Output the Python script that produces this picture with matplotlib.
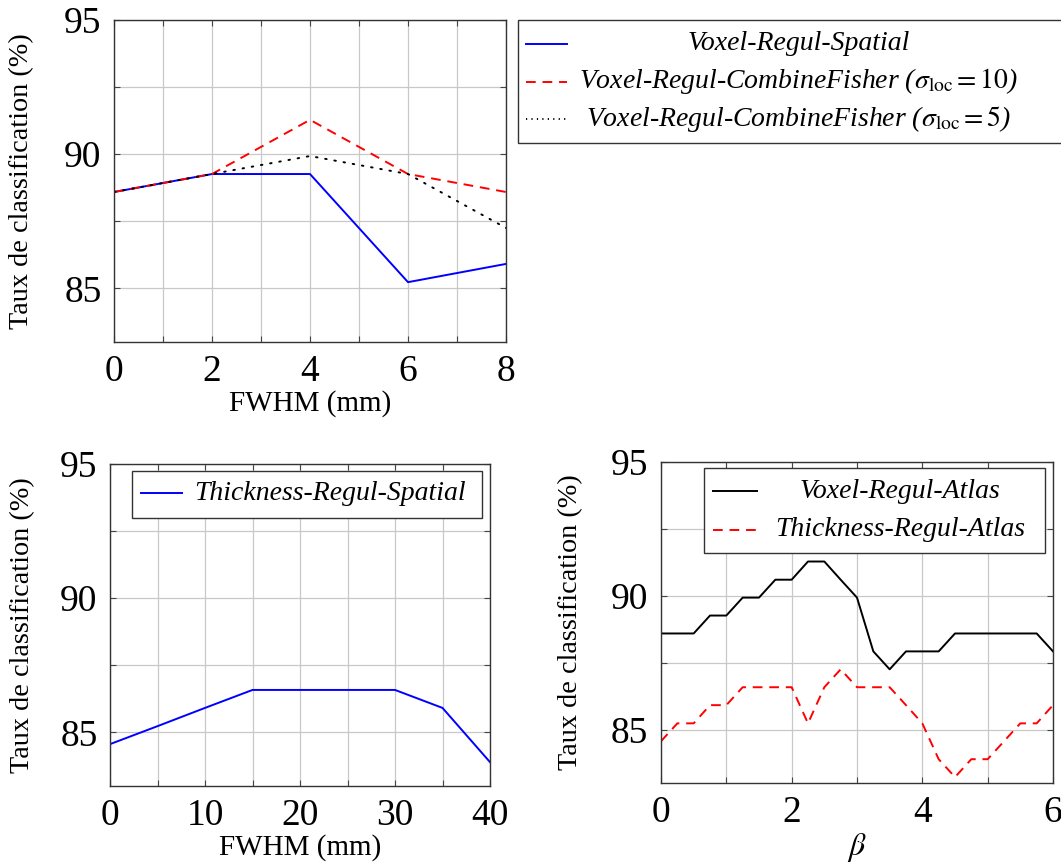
import matplotlib
matplotlib.use("Agg")
import matplotlib.pyplot as plt
from matplotlib.lines import Line2D
from matplotlib.patches import Rectangle
from matplotlib.ticker import MultipleLocator

# ---------------- data ----------------
fwhm_voxel = [0, 2, 4, 6, 8]
voxel_spatial = [88.59, 89.26, 89.26, 85.23, 85.91]
voxel_fisher10 = [88.59, 89.26, 91.28, 89.26, 88.59]
voxel_fisher5 = [88.59, 89.26, 89.93, 89.26, 87.25]

fwhm_thick = [0, 5, 10, 15, 20, 25, 30, 35, 40]
thick_spatial = [84.56, 85.23, 85.91, 86.58, 86.58, 86.58, 86.58, 85.91, 83.89]

beta = [0, 0.25, 0.5, 0.75, 1, 1.25, 1.5, 1.75, 2, 2.25, 2.5, 2.75, 3,
        3.25, 3.5, 3.75, 4, 4.25, 4.5, 4.75, 5, 5.25, 5.5, 5.75, 6]
voxel_atlas = [88.59, 88.59, 88.59, 89.26, 89.26, 89.93, 89.93, 90.60, 90.60,
               91.28, 91.28, 90.60, 89.93, 87.92, 87.25, 87.92, 87.92, 87.92,
               88.59, 88.59, 88.59, 88.59, 88.59, 88.59, 87.92]
thick_atlas = [84.56, 85.23, 85.23, 85.91, 85.91, 86.58, 86.58, 86.58, 86.58,
               85.23, 86.58, 87.25, 86.58, 86.58, 86.58, 85.91, 85.23, 83.89,
               83.22, 83.89, 83.89, 84.56, 85.23, 85.23, 85.91]

ylabel = "Taux de classification (%)"
yticks = [85, 90, 95]

# ---------------- style ----------------
plt.rcParams["font.family"] = ["Liberation Serif", "DejaVu Serif"]
plt.rcParams["mathtext.fontset"] = "stix"

W, H = 1061, 867
fig = plt.figure(figsize=(W / 100, H / 100), dpi=100)

BLUE = "#0000ff"
RED = "#ff0000"
LW = 1.4
DASH = (0, (5, 3.5))
DOT = (0, (0.8, 4.0))
TICK_FS = 27
XLABEL_FS = 21
YLABEL_FS = 20.3
LEG_FS = 20


def px_axes(l, t, r, b):
    return fig.add_axes([l / W, 1 - b / H, (r - l) / W, (b - t) / H])


def style(ax, xmaj, xmin, xlim):
    ax.set_xlim(*xlim)
    ax.set_ylim(83, 95)
    ax.xaxis.set_major_locator(MultipleLocator(xmaj))
    ax.xaxis.set_minor_locator(MultipleLocator(xmin))
    ax.set_yticks(yticks)
    ax.yaxis.set_minor_locator(MultipleLocator(2.5))
    ax.grid(True, which="both", color="#c8c8c8", lw=0.9)
    ax.set_axisbelow(True)
    ax.tick_params(which="both", direction="in", top=True, right=True,
                   length=4, width=0.8, color="#444444", labelsize=TICK_FS)
    ax.tick_params(axis="x", pad=9)
    ax.tick_params(axis="y", pad=9)
    for s in ax.spines.values():
        s.set_color("#333333")
        s.set_linewidth(1.0)
    ax.set_ylabel(ylabel, fontsize=YLABEL_FS)


def manual_legend(box, rows, text_cx):
    """box = (l, t, r, b) in pixels; rows = list of (y, x0, x1, kwargs, label)."""
    l, t, r, b = box
    fig.patches.append(Rectangle((l / W, 1 - b / H), (r - l) / W, (b - t) / H,
                                 transform=fig.transFigure, facecolor="white",
                                 edgecolor="#333333", lw=1.0, zorder=10))
    for (y, hx0, hx1, kw, label) in rows:
        fig.lines.append(Line2D([hx0 / W, hx1 / W], [1 - y / H, 1 - y / H],
                                transform=fig.transFigure, zorder=11, **kw))
        fig.text(text_cx / W, 1 - y / H, label, ha="center", va="center",
                 fontsize=LEG_FS, style="italic", zorder=12)


# ---------------- top ----------------
ax1 = px_axes(114, 20, 506, 342)
ax1.plot(fwhm_voxel, voxel_spatial, color=BLUE, lw=LW)
ax1.plot(fwhm_voxel, voxel_fisher10, color=RED, lw=LW, ls=DASH)
ax1.plot(fwhm_voxel, voxel_fisher5, color="black", lw=LW, ls=DOT,
         dash_capstyle="round")
style(ax1, 2, 1, (0, 8))
ax1.set_xlabel("FWHM (mm)", fontsize=XLABEL_FS, labelpad=1)
ax1.yaxis.set_label_coords(-0.235, 0.5)
ax1.yaxis.label.set_va("center")

manual_legend((518, 20, 1075, 143), [
    (44, 526, 567, dict(color=BLUE, lw=LW), "Voxel-Regul-Spatial"),
    (81.5, 526, 567, dict(color=RED, lw=LW, ls=DASH),
     r"Voxel-Regul-CombineFisher $\mathregular{(}\sigma_{\mathrm{loc}}=10\mathregular{)}$"),
    (119, 526, 567, dict(color="black", lw=LW, ls=(0, (0.6, 2.2))),
     r"Voxel-Regul-CombineFisher $\mathregular{(}\sigma_{\mathrm{loc}}=5\mathregular{)}$"),
], 799)

# ---------------- bottom left ----------------
ax2 = px_axes(110, 464, 490, 786)
ax2.plot(fwhm_thick, thick_spatial, color=BLUE, lw=LW)
style(ax2, 10, 5, (0, 40))
ax2.set_xlabel("FWHM (mm)", fontsize=XLABEL_FS, labelpad=1)
ax2.yaxis.set_label_coords(-0.231, 0.5)
ax2.yaxis.label.set_va("center")

manual_legend((132, 471, 482, 518), [
    (493, 141, 182, dict(color=BLUE, lw=LW), "Thickness-Regul-Spatial"),
], 330)

# ---------------- bottom right ----------------
ax3 = px_axes(661, 462, 1053, 783)
ax3.plot(beta, voxel_atlas, color="black", lw=LW)
ax3.plot(beta, thick_atlas, color=RED, lw=LW, ls=DASH)
style(ax3, 2, 1, (0, 6))
ax3.set_xlabel(r"$\beta$", fontsize=XLABEL_FS + 2, labelpad=1)
ax3.yaxis.set_label_coords(-0.23, 0.5)
ax3.yaxis.label.set_va("center")

manual_legend((704, 468, 1045, 553), [
    (491.5, 713, 757, dict(color="black", lw=LW), "Voxel-Regul-Atlas"),
    (529.5, 713, 757, dict(color=RED, lw=LW, ls=DASH),
     "Thickness-Regul-Atlas"),
], 900)

fig.savefig("out.png", dpi=100)
